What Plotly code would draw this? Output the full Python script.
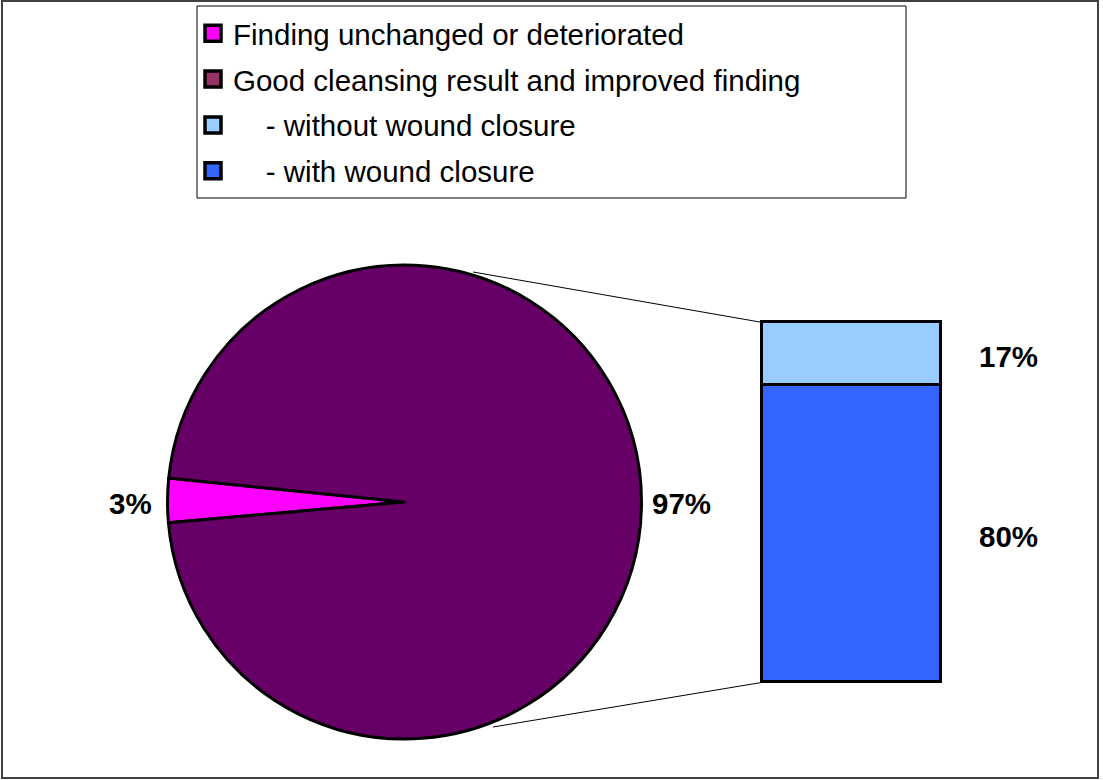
import plotly.graph_objects as go

# ---- data ----
pie_labels = ["Finding unchanged or deteriorated", "Good cleansing result and improved finding"]
pie_values = [3, 97]
pie_colors = ["#FF00FF", "#660066"]

bar_labels = ["- with wound closure", "- without wound closure"]
bar_values = [80, 17]
bar_colors = ["#3366FF", "#99CCFF"]

legend_labels = [
    "Finding unchanged or deteriorated",
    "Good cleansing result and improved finding",
    "\u00a0\u00a0\u00a0\u00a0- without wound closure",
    "\u00a0\u00a0\u00a0\u00a0- with wound closure",
]
legend_colors = ["#FF00FF", "#993366", "#99CCFF", "#3366FF"]

W, H = 1103, 780
FONT = "Arial, Liberation Sans, sans-serif"
FS = 29.5


def px(x):
    return x / W


def py(y):
    return (H - y) / H


fig = go.Figure()

# pie
fig.add_trace(go.Pie(
    labels=pie_labels, values=pie_values, sort=False, direction="clockwise",
    rotation=265, textinfo="none", hoverinfo="skip", showlegend=False,
    marker=dict(colors=pie_colors, line=dict(color="black", width=3)),
    domain=dict(x=[px(167.5), px(641.5)], y=[py(739), py(265)]),
))

# stacked bar
for lab, val, col in zip(bar_labels, bar_values, bar_colors):
    fig.add_trace(go.Bar(
        x=["bar"], y=[val], name=lab, marker=dict(color=col, line=dict(color="black", width=3)),
        showlegend=False, hoverinfo="skip",
    ))

# legend entries
for i, (lab, col) in enumerate(zip(legend_labels, legend_colors)):
    fig.add_trace(go.Scatter(
        x=[None], y=[None], mode="markers", name=lab, legendgroup=f"g{i}",
        marker=dict(symbol="square", size=16, color=col, line=dict(color="black", width=3.5)),
    ))

annotations = []
# pie labels
annotations.append(dict(x=px(154), y=py(504), xref="paper", yref="paper", text=f"<b>{pie_values[0]}%</b>",
                        showarrow=False, xanchor="right", yanchor="middle"))
annotations.append(dict(x=px(650), y=py(504), xref="paper", yref="paper", text=f"<b>{pie_values[1]}%</b>",
                        showarrow=False, xanchor="left", yanchor="middle"))
# bar labels at segment midpoints
cum = 0
for val in bar_values:
    annotations.append(dict(x=px(1008), y=cum + val / 2, xref="paper", yref="y", text=f"<b>{val}%</b>",
                            showarrow=False, xanchor="center", yanchor="middle", yshift=-3))
    cum += val

shapes = [
    # outer frame
    dict(type="rect", xref="paper", yref="paper", x0=px(2), x1=px(1098), y0=py(778), y1=py(1),
         line=dict(color="#404040", width=2)),
    # legend box
    dict(type="rect", xref="paper", yref="paper", x0=px(197), x1=px(906), y0=py(198), y1=py(6),
         line=dict(color="black", width=1)),
    # connector lines
    dict(type="line", xref="paper", yref="paper", x0=px(473), y0=py(272), x1=px(761.5), y1=py(322.3),
         line=dict(color="black", width=1)),
    dict(type="line", xref="paper", yref="paper", x0=px(493), y0=py(727), x1=px(761.5), y1=py(682.5),
         line=dict(color="black", width=1)),
]

# bar placement with a small pad so the outline is not clipped
BX0, BX1, BY_BOT, BY_TOP, PAD = 761.5, 940.0, 682.5, 322.3, 3.0
total = sum(bar_values)
xpad = PAD / (BX1 - BX0)
ypad = PAD * total / (BY_BOT - BY_TOP)

fig.update_layout(
    width=W, height=H, margin=dict(l=0, r=0, t=0, b=0),
    paper_bgcolor="white", plot_bgcolor="rgba(0,0,0,0)",
    font=dict(family=FONT, size=FS, color="black"),
    barmode="stack", bargap=0,
    xaxis=dict(domain=[px(BX0 - PAD), px(BX1 + PAD)], range=[-0.5 - xpad, 0.5 + xpad],
               visible=False, fixedrange=True),
    yaxis=dict(domain=[py(BY_BOT + PAD), py(BY_TOP - PAD)], range=[-ypad, total + ypad],
               visible=False, fixedrange=True),
    legend=dict(x=px(193), y=py(7.5), xanchor="left", yanchor="top", bgcolor="rgba(0,0,0,0)",
                borderwidth=0, tracegroupgap=4.5, font=dict(size=FS, family=FONT)),
    annotations=annotations, shapes=shapes,
)

fig.write_html("out.html", config={"displayModeBar": False},
               post_script="document.body.style.margin='0';document.body.style.overflow='hidden';")
